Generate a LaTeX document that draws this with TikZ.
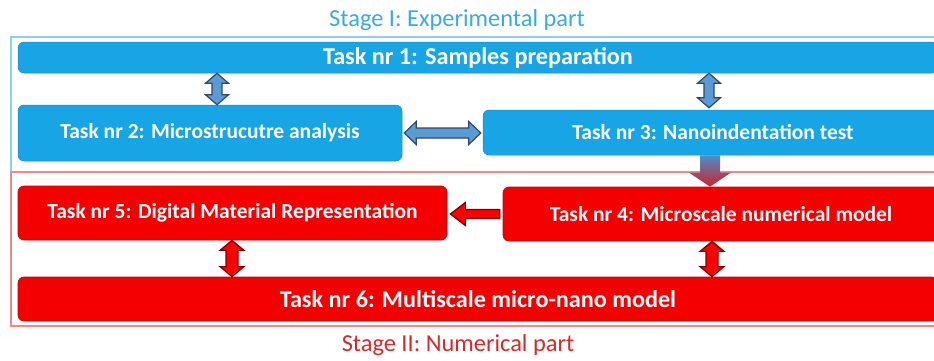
\documentclass[tikz,border=0pt]{standalone}
\usepackage{fontspec}
\setmainfont{Carlito}
\usetikzlibrary{calc}
\definecolor{boxblue}{HTML}{17A5E6}
\definecolor{boxred}{HTML}{F50000}
\definecolor{redline}{HTML}{B01010}
\definecolor{arrblue}{HTML}{5B9BD5}
\definecolor{arrblueline}{HTML}{2E4A6A}
\definecolor{arrred}{HTML}{FF0000}
\definecolor{arrredline}{HTML}{7A0000}
\definecolor{stageblue}{HTML}{3BAAE0}
\definecolor{stagered}{HTML}{D42A2A}
\definecolor{frameblue}{HTML}{8DD0F0}
\definecolor{framered}{HTML}{F08A8A}
\definecolor{gradtop}{HTML}{4A8FCB}
\definecolor{gradbot}{HTML}{D0202A}
% vertical double arrow: top point, bottom point, shaft half, head half, head length, style
\newcommand{\vdarrow}[6]{%
  \path[#6] let \p1=#1, \p2=#2 in
   (\x1,\y1) -- (\x1+#4pt,\y1-#5pt) -- (\x1+#3pt,\y1-#5pt) -- (\x1+#3pt,\y2+#5pt)
   -- (\x1+#4pt,\y2+#5pt) -- (\x1,\y2) -- (\x1-#4pt,\y2+#5pt) -- (\x1-#3pt,\y2+#5pt)
   -- (\x1-#3pt,\y1-#5pt) -- (\x1-#4pt,\y1-#5pt) -- cycle;}
% horizontal double arrow: left point, right point, ...
\newcommand{\hdarrow}[6]{%
  \path[#6] let \p1=#1, \p2=#2 in
   (\x1,\y1) -- (\x1+#5pt,\y1+#4pt) -- (\x1+#5pt,\y1+#3pt) -- (\x2-#5pt,\y1+#3pt)
   -- (\x2-#5pt,\y1+#4pt) -- (\x2,\y1) -- (\x2-#5pt,\y1-#4pt) -- (\x2-#5pt,\y1-#3pt)
   -- (\x1+#5pt,\y1-#3pt) -- (\x1+#5pt,\y1-#4pt) -- cycle;}
% single arrow pointing left: tip (left), tail (right)
\newcommand{\larrow}[6]{%
  \path[#6] let \p1=#1, \p2=#2 in
   (\x1,\y1) -- (\x1+#5pt,\y1+#4pt) -- (\x1+#5pt,\y1+#3pt) -- (\x2,\y1+#3pt)
   -- (\x2,\y1-#3pt) -- (\x1+#5pt,\y1-#3pt) -- (\x1+#5pt,\y1-#4pt) -- cycle;}
% single arrow pointing down: tail (top), tip (bottom)
\newcommand{\darrow}[6]{%
  \path[#6] let \p1=#1, \p2=#2 in
   (\x1-#3pt,\y1) -- (\x1+#3pt,\y1) -- (\x1+#3pt,\y2+#5pt) -- (\x1+#4pt,\y2+#5pt)
   -- (\x1,\y2) -- (\x1-#4pt,\y2+#5pt) -- (\x1-#3pt,\y2+#5pt) -- cycle;}
\begin{document}
\begin{tikzpicture}[x=1pt,y=-1pt,
  task/.style={rounded corners=6pt, text=white, inner sep=0pt,
    font=\fontsize{21.5}{26}\selectfont\bfseries},
  bigtask/.style={font=\fontsize{24.2}{28}\selectfont\bfseries},
  bluetask/.style={task, fill=boxblue, draw=boxblue!85!black, line width=0.5pt},
  redtask/.style={task, fill=boxred, draw=redline, line width=0.7pt},
  stage/.style={font=\fontsize{24.4}{28}\selectfont},
  bluearr/.style={fill=arrblue, draw=arrblueline, line width=1.2pt, line join=miter},
  redarr/.style={fill=arrred, draw=arrredline, line width=1.2pt, line join=miter},
  gradarr/.style={top color=gradtop, bottom color=gradbot, draw=none}]
\useasboundingbox (0,0) rectangle (934,360);
\clip (0,0) rectangle (934,360);
\fill[white] (0,0) rectangle (934,360);

% stage frames
\draw[frameblue, line width=1.3pt] (11,37) rectangle (950,172);
\draw[framered, line width=1.3pt] (11,172) rectangle (950,326);

\node[stage, text=stageblue] (s1) at (457,20) {Stage I: Experimental part};
\node[stage, text=stagered] (s2) at (458,345) {Stage II: Numerical part};

% tasks
\node[bluetask, bigtask, minimum width=920pt, minimum height=31pt] (t1) at (478,57.5) {Task nr 1: Samples preparation};
\node[bluetask, minimum width=384pt, minimum height=56pt] (t2) at (210,133) {Task nr 2: Microstrucutre analysis};
\node[bluetask, minimum width=460pt, minimum height=45pt] (t3) at (713,132.5) {Task nr 3: Nanoindentation test};
\node[redtask, minimum width=436pt, minimum height=54pt] (t4) at (721,214) {Task nr 4: Microscale numerical model};
\node[redtask, minimum width=429pt, minimum height=54pt] (t5) at (232.5,213) {Task nr 5: Digital Material Representation};
\node[redtask, bigtask, minimum width=920pt, minimum height=44pt] (t6) at (478,299) {Task nr 6: Multiscale micro-nano model};

% x positions of vertical connectors
\coordinate (xa) at (217,0);
\coordinate (xb) at (709,0);
\coordinate (xc) at (710,0);
\coordinate (xd) at (232,0);
\coordinate (xe) at (712,0);

% connectors
\vdarrow{(t1.south -| xa)}{(t2.north -| xa)}{5}{11.5}{10}{bluearr}
\vdarrow{(t1.south -| xb)}{($(t3.north -| xb)+(0,-2)$)}{5}{11.5}{10}{bluearr}
\hdarrow{($(t2.east)+(2,0)$)}{($(t3.west |- t2.east)+(-2,0)$)}{5}{11.5}{12}{bluearr}
\darrow{(t3.south -| xc)}{(t4.north -| xc)}{10}{21}{14}{gradarr}
\larrow{($(t5.east |- t4.west)+(3,0)$)}{($(t4.west)+(-3,0)$)}{4.5}{11.5}{15}{redarr}
\vdarrow{(t5.south -| xd)}{(t6.north -| xd)}{6}{12}{10}{redarr}
\vdarrow{(t4.south -| xe)}{(t6.north -| xe)}{6}{12}{10}{redarr}
\end{tikzpicture}
\end{document}
